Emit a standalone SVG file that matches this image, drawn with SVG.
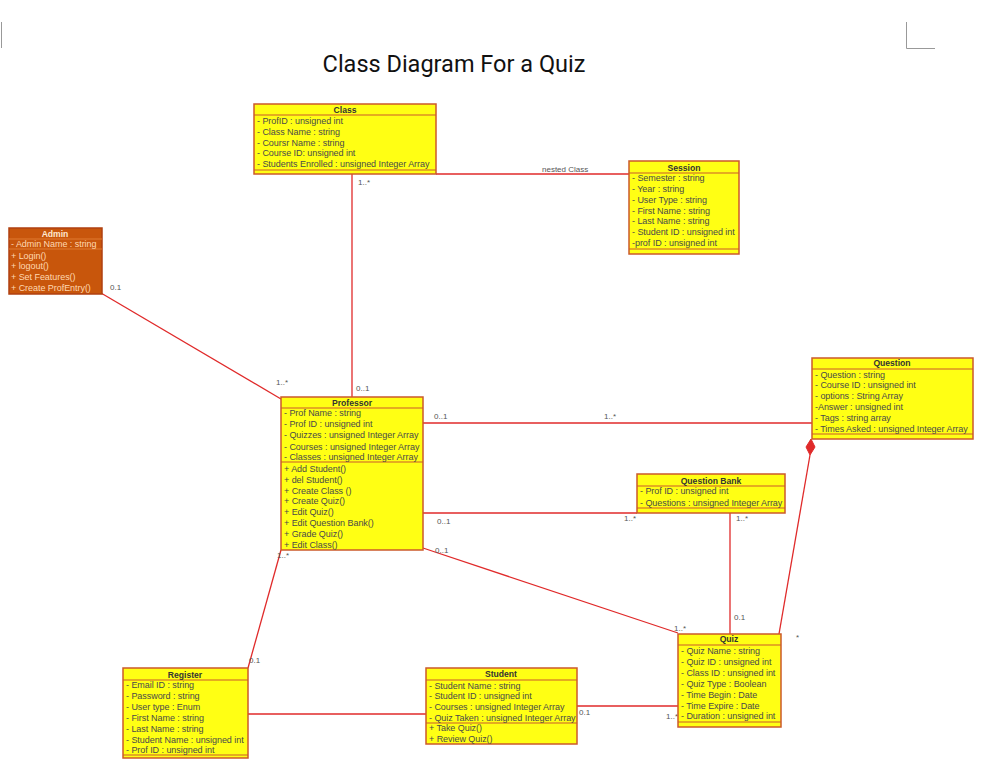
<svg xmlns="http://www.w3.org/2000/svg" width="992" height="779" viewBox="0 0 992 779">
<style>
.box{fill:#ffff14;stroke:#cc5a2a;stroke-width:1.5}
.adm{fill:#c8560c;stroke:#b04010;stroke-width:1.5}
.sep{stroke:#cc5a2a;stroke-width:1.2}
.t{font-family:"Liberation Sans",Arial,sans-serif;font-size:9px;fill:#4a4a4a;letter-spacing:-0.05px}
.ti{font-family:"Liberation Sans",Arial,sans-serif;font-size:8.6px;font-weight:bold;fill:#333;text-anchor:middle}
.at{font-family:"Liberation Sans",Arial,sans-serif;font-size:9px;fill:#ffd8b0;letter-spacing:-0.05px}
.ati{font-family:"Liberation Sans",Arial,sans-serif;font-size:8.6px;font-weight:bold;fill:#ffe8d0;text-anchor:middle}
.c{stroke:#e02a2a;stroke-width:1.3;fill:none}
.l{font-family:"Liberation Sans",Arial,sans-serif;font-size:8px;fill:#555}
</style>
<rect width="992" height="779" fill="#fff"/>
<g id="corners" stroke="#999" stroke-width="1" fill="none">
<line x1="1.5" y1="22" x2="1.5" y2="48"/>
<polyline points="906.5,22 906.5,48.5 935,48.5"/>
</g>
<text x="454" y="72" font-family="Roboto,'Liberation Sans',sans-serif" font-size="23.5" fill="#111" text-anchor="middle">Class Diagram For a Quiz</text>

<g id="connectors">
<line class="c" x1="436" y1="174" x2="629" y2="174"/>
<line class="c" x1="352" y1="174" x2="352" y2="397"/>
<line class="c" x1="101" y1="293" x2="281" y2="399"/>
<line class="c" x1="423" y1="423" x2="812" y2="423"/>
<line class="c" x1="423" y1="513" x2="637" y2="513"/>
<line class="c" x1="423" y1="548" x2="678" y2="633"/>
<line class="c" x1="730" y1="513" x2="730" y2="634"/>
<line class="c" x1="810" y1="455" x2="779" y2="634"/>
<polygon points="811,439 815,447 810,455 806,447" fill="#e02a2a" stroke="#e02a2a" stroke-width="1"/>
<line class="c" x1="281" y1="550" x2="248" y2="668"/>
<line class="c" x1="248" y1="714" x2="426" y2="714"/>
<line class="c" x1="577" y1="706" x2="678" y2="706"/>
<text class="l" x="542" y="172">nested Class</text>
<text class="l" x="358" y="185">1..*</text>
<text class="l" x="356" y="391">0..1</text>
<text class="l" x="110" y="290">0.1</text>
<text class="l" x="276" y="385">1..*</text>
<text class="l" x="434" y="419">0..1</text>
<text class="l" x="604" y="419">1..*</text>
<text class="l" x="437" y="524">0..1</text>
<text class="l" x="624" y="521">1..*</text>
<text class="l" x="435" y="553">0..1</text>
<text class="l" x="674" y="631">1..*</text>
<text class="l" x="736" y="521">1..*</text>
<text class="l" x="734" y="620">0.1</text>
<text class="l" x="796" y="640">*</text>
<text class="l" x="277" y="558">1..*</text>
<text class="l" x="249" y="663">0.1</text>
<text class="l" x="579" y="715">0.1</text>
<text class="l" x="666" y="719">1..*</text>
</g>

<g id="class">
<rect class="box" x="254" y="104" width="182" height="70"/>
<line class="sep" x1="254" y1="115" x2="436" y2="115"/>
<line class="sep" x1="254" y1="170" x2="436" y2="170"/>
<text class="ti" x="345" y="113">Class</text>
<text class="t" x="257" y="124">- ProfID : unsigned int</text>
<text class="t" x="257" y="135">- Class Name : string</text>
<text class="t" x="257" y="146">- Coursr Name : string</text>
<text class="t" x="257" y="156">- Course ID: unsigned int</text>
<text class="t" x="257" y="167">- Students Enrolled : unsigned Integer Array</text>
</g>

<g id="session">
<rect class="box" x="629" y="161" width="110" height="93"/>
<line class="sep" x1="629" y1="173" x2="739" y2="173"/>
<line class="sep" x1="629" y1="249" x2="739" y2="249"/>
<text class="ti" x="684" y="171">Session</text>
<text class="t" x="632" y="181">- Semester : string</text>
<text class="t" x="632" y="192">- Year : string</text>
<text class="t" x="632" y="203">- User Type : string</text>
<text class="t" x="632" y="214">- First Name : string</text>
<text class="t" x="632" y="224">- Last Name : string</text>
<text class="t" x="632" y="235">- Student ID : unsigned int</text>
<text class="t" x="632" y="246">-prof ID : unsigned int</text>
</g>

<g id="admin">
<rect class="adm" x="9" y="228" width="93" height="66"/>
<line x1="9" y1="239" x2="102" y2="239" stroke="#e07a30" stroke-width="1.2"/>
<line x1="9" y1="249" x2="102" y2="249" stroke="#e07a30" stroke-width="1.2"/>
<text class="ati" x="55" y="237">Admin</text>
<text class="at" x="11" y="247">- Admin Name : string</text>
<text class="at" x="11" y="259">+ Login()</text>
<text class="at" x="11" y="269">+ logout()</text>
<text class="at" x="11" y="280">+ Set Features()</text>
<text class="at" x="11" y="291">+ Create ProfEntry()</text>
</g>

<g id="professor">
<rect class="box" x="281" y="397" width="142" height="153"/>
<line class="sep" x1="281" y1="408" x2="423" y2="408"/>
<line class="sep" x1="281" y1="462" x2="423" y2="462"/>
<text class="ti" x="352" y="406">Professor</text>
<text class="t" x="284" y="416">- Prof Name : string</text>
<text class="t" x="284" y="427">- Prof ID : unsigned int</text>
<text class="t" x="284" y="438">- Quizzes : unsigned Integer Array</text>
<text class="t" x="284" y="450">- Courses : unsigned Integer Array</text>
<text class="t" x="284" y="460">- Classes : unsigned Integer Array</text>
<text class="t" x="284" y="472">+ Add Student()</text>
<text class="t" x="284" y="483">+ del Student()</text>
<text class="t" x="284" y="494">+ Create Class ()</text>
<text class="t" x="284" y="504">+ Create Quiz()</text>
<text class="t" x="284" y="515">+ Edit Quiz()</text>
<text class="t" x="284" y="526">+ Edit Question Bank()</text>
<text class="t" x="284" y="537">+ Grade Quiz()</text>
<text class="t" x="284" y="548">+ Edit Class()</text>
</g>

<g id="question">
<rect class="box" x="812" y="358" width="161" height="81"/>
<line class="sep" x1="812" y1="369" x2="973" y2="369"/>
<line class="sep" x1="812" y1="434" x2="973" y2="434"/>
<text class="ti" x="892" y="366">Question</text>
<text class="t" x="815" y="378">- Question : string</text>
<text class="t" x="815" y="388">- Course ID : unsigned int</text>
<text class="t" x="815" y="399">- options : String Array</text>
<text class="t" x="815" y="410">-Answer : unsigned int</text>
<text class="t" x="815" y="421">- Tags : string array</text>
<text class="t" x="815" y="432">- Times Asked  : unsigned Integer Array</text>
</g>

<g id="questionbank">
<rect class="box" x="637" y="474" width="148" height="39"/>
<line class="sep" x1="637" y1="486" x2="785" y2="486"/>
<line class="sep" x1="637" y1="508" x2="785" y2="508"/>
<text class="ti" x="711" y="484">Question Bank</text>
<text class="t" x="640" y="494">- Prof ID : unsigned int</text>
<text class="t" x="640" y="506">- Questions : unsigned Integer Array</text>
</g>

<g id="quiz">
<rect class="box" x="678" y="634" width="103" height="93"/>
<line class="sep" x1="678" y1="645" x2="781" y2="645"/>
<line class="sep" x1="678" y1="722" x2="781" y2="722"/>
<text class="ti" x="729" y="642">Quiz</text>
<text class="t" x="681" y="654">- Quiz Name : string</text>
<text class="t" x="681" y="665">- Quiz ID : unsigned int</text>
<text class="t" x="681" y="676">- Class ID : unsigned int</text>
<text class="t" x="681" y="687">- Quiz Type : Boolean</text>
<text class="t" x="681" y="698">- Time Begin : Date</text>
<text class="t" x="681" y="709">- Time Expire : Date</text>
<text class="t" x="681" y="719">- Duration : unsigned int</text>
</g>

<g id="register">
<rect class="box" x="123" y="668" width="125" height="90"/>
<line class="sep" x1="123" y1="680" x2="248" y2="680"/>
<line class="sep" x1="123" y1="755" x2="248" y2="755"/>
<text class="ti" x="185" y="678">Register</text>
<text class="t" x="126" y="688">- Email ID : string</text>
<text class="t" x="126" y="699">- Password : string</text>
<text class="t" x="126" y="710">- User type : Enum</text>
<text class="t" x="126" y="721">- First Name : string</text>
<text class="t" x="126" y="732">- Last Name : string</text>
<text class="t" x="126" y="743">- Student Name : unsigned int</text>
<text class="t" x="126" y="753">- Prof ID : unsigned int</text>
</g>

<g id="student">
<rect class="box" x="426" y="668" width="151" height="76"/>
<line class="sep" x1="426" y1="680" x2="577" y2="680"/>
<line class="sep" x1="426" y1="723" x2="577" y2="723"/>
<text class="ti" x="501" y="677">Student</text>
<text class="t" x="429" y="689">- Student Name : string</text>
<text class="t" x="429" y="699">- Student ID : unsigned int</text>
<text class="t" x="429" y="710">- Courses : unsigned Integer Array</text>
<text class="t" x="429" y="721">- Quiz Taken : unsigned Integer Array</text>
<text class="t" x="429" y="731">+ Take Quiz()</text>
<text class="t" x="429" y="742">+ Review Quiz()</text>
</g>
</svg>
